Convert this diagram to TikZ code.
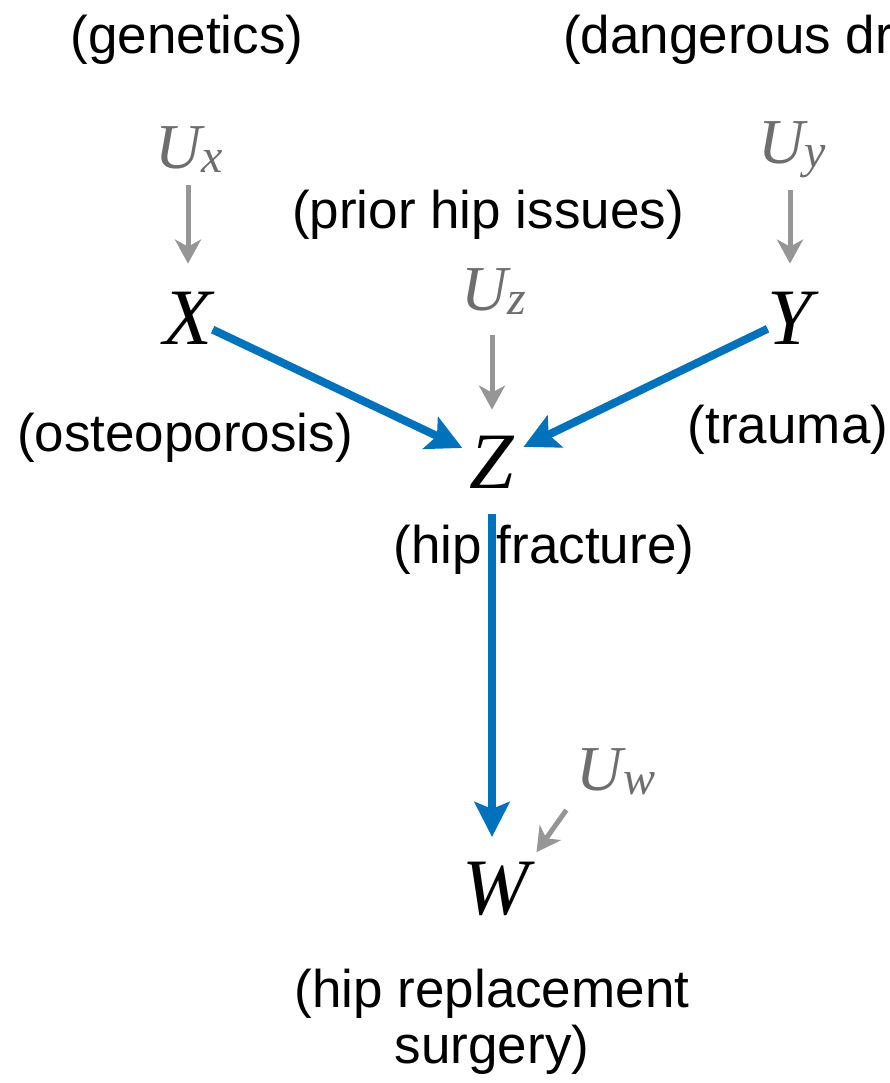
\documentclass[tikz,border=0pt]{standalone}
\usepackage{fontspec}
\newfontfamily\lblfont{Liberation Sans}
\newfontfamily\varfont{Liberation Serif}
\usetikzlibrary{arrows.meta}
\definecolor{cblue}{RGB}{0,114,188}
\definecolor{carrow}{RGB}{150,150,150}
\definecolor{cutext}{RGB}{110,110,110}
\newcommand{\usub}[1]{U\raisebox{-4pt}{\fontsize{48}{50}\selectfont #1}}
\begin{document}
\begin{tikzpicture}[x=1pt,y=-1pt,
  lbl/.style={font=\lblfont\fontsize{53}{56}\selectfont, inner sep=0pt, align=center},
  var/.style={font=\varfont\itshape\fontsize{80}{84}\selectfont, inner sep=0pt},
  uvar/.style={font=\varfont\itshape\fontsize{64}{70}\selectfont, inner sep=0pt, text=cutext},
  causal/.style={draw=cblue, line width=8pt, -{Stealth[length=35pt,width=35pt,inset=7pt]}},
  noise/.style={draw=carrow, line width=5pt, -{Stealth[length=24pt,width=26pt,inset=7pt]}}]
\useasboundingbox (0,0) rectangle (889,1083);
\clip (0,0) rectangle (889,1083);
% labels
\node[lbl] (lg) at (187,40) {(genetics)};
\node[lbl, anchor=west] (ld) at (563,40) {(dangerous driving)};
\node[lbl] (lp) at (488,215) {(prior hip issues)};
\node[lbl] (lo) at (185,438) {(osteoporosis)};
\node[lbl] (lt) at (788,430) {(trauma)};
\node[lbl] (lh) at (544,550) {(hip fracture)};
\node[lbl] (lr) at (492,1022) {(hip replacement\\surgery)};
% variables
\node[uvar] (ux) at (189,150) {\usub{x}};
\node[uvar] (uy) at (792,150) {\usub{y}};
\node[uvar] (uz) at (494,292) {\usub{z}};
\node[uvar] (uw) at (616,772) {\usub{w}};
\node[var] (x) at (188,318) {X};
\node[var] (y) at (790,318) {Y};
\node[var] (z) at (492,462) {Z};
\node[var] (w) at (496,889) {W};
% noise arrows
\draw[noise, shorten <=12pt, shorten >=28pt] (x.north |- ux.south) -- (x.north);
\draw[noise, shorten <=12pt, shorten >=28pt] (y.north |- uy.south) -- (y.north);
\draw[noise, shorten <=20pt, shorten >=26pt] (z.north |- uz.south) -- (z.north);
\draw[noise, shorten <=18pt, shorten >=12pt] (uw.south west) -- (w.north east);
% causal arrows
\draw[causal, shorten >=8pt] (x) -- (z);
\draw[causal, shorten >=10pt] (y) -- (z);
\draw[causal, shorten <=26pt, shorten >=52pt] (z) -- (z |- w);
\end{tikzpicture}
\end{document}
